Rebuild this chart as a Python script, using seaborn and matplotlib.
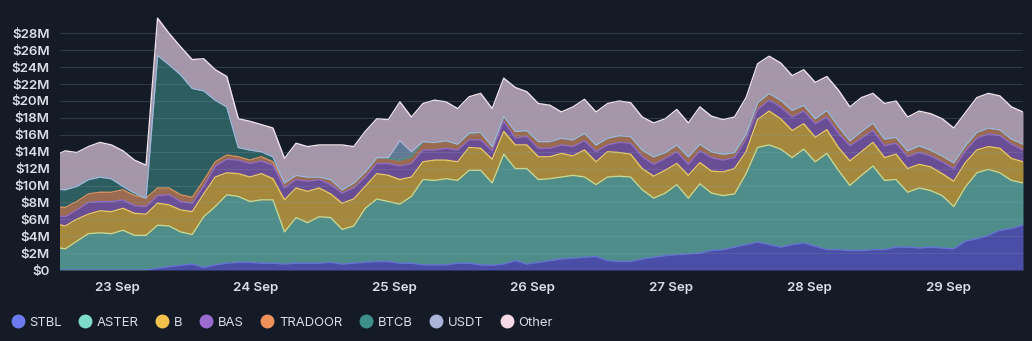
import numpy as np
import pandas as pd
import matplotlib
matplotlib.use("Agg")
import matplotlib.pyplot as plt
import matplotlib.dates as mdates
from matplotlib.lines import Line2D
from matplotlib.ticker import FuncFormatter, FixedLocator
import seaborn as sns

# ---- data (millions of USD, 2-hour steps from 22 Sep 13:00) ----
timestamps = pd.date_range("2025-09-22 13:00", periods=85, freq="2h")

stbl = [0, 0, 0, 0, 0, 0, 0, 0, 0, 0.2, 0.4, 0.55, 0.7, 0.3, 0.6, 0.8, 0.9, 0.9, 0.8, 0.8,
        0.7, 0.8, 0.8, 0.8, 0.9, 0.7, 0.8, 0.9, 1.0, 1.0, 0.8, 0.8, 0.6, 0.6, 0.6, 0.8, 0.8, 0.6, 0.55, 0.7,
        1.1, 0.7, 0.9, 1.1, 1.3, 1.4, 1.5, 1.6, 1.1, 1.0, 1.0, 1.3, 1.5, 1.7, 1.8, 1.9, 2.0, 2.3, 2.4, 2.7,
        3.0, 3.3, 3.0, 2.7, 3.0, 3.2, 2.8, 2.4, 2.4, 2.3, 2.3, 2.4, 2.4, 2.7, 2.7, 2.6, 2.7, 2.6, 2.5, 3.4,
        3.7, 4.1, 4.7, 4.9, 5.3]
aster = [2.7, 2.5, 3.4, 4.3, 4.4, 4.3, 4.7, 4.1, 4.1, 5.1, 4.8, 3.95, 3.5, 6.0, 6.9, 8.1, 7.8, 7.2, 7.5, 7.5,
         3.8, 5.4, 4.8, 5.5, 5.3, 4.1, 4.4, 6.4, 7.4, 7.1, 7.0, 7.9, 10.1, 10.0, 10.2, 9.8, 11.0, 11.2, 9.75, 13.0,
         10.9, 11.3, 9.8, 9.7, 9.7, 9.8, 9.5, 8.5, 9.9, 10.1, 10.0, 8.2, 7.0, 7.4, 8.3, 6.6, 8.2, 6.8, 6.4, 6.3,
         8.4, 11.2, 11.8, 11.6, 10.3, 11.1, 10.0, 11.4, 9.4, 7.7, 8.9, 9.9, 8.2, 8.0, 6.5, 7.1, 6.7, 6.2, 5.0, 6.4,
         7.8, 7.8, 6.8, 5.7, 5.0]
b_tok = [2.8, 2.7, 2.6, 2.3, 2.6, 2.6, 2.6, 2.6, 2.5, 2.6, 2.5, 2.6, 2.7, 2.7, 3.5, 2.6, 2.7, 2.9, 3.1, 2.5,
         3.8, 3.5, 3.7, 3.4, 2.8, 3.1, 3.2, 2.6, 3.0, 3.1, 2.9, 2.3, 2.1, 2.4, 2.2, 2.2, 2.7, 2.6, 2.8, 2.7,
         2.8, 2.8, 2.7, 2.6, 2.8, 2.3, 3.2, 2.7, 3.0, 2.8, 2.7, 2.5, 2.6, 2.7, 2.5, 2.7, 2.5, 2.6, 2.8, 3.0,
         2.6, 3.3, 4.0, 3.6, 3.2, 3.0, 2.9, 2.8, 2.7, 2.9, 2.8, 2.8, 2.7, 3.0, 2.8, 2.8, 2.8, 2.6, 3.0, 2.9,
         2.7, 2.7, 2.9, 2.6, 2.5]
bas = [1.0, 1.1, 1.1, 1.4, 1.1, 1.2, 1.0, 0.9, 0.9, 0.9, 1.2, 1.0, 1.0, 0.9, 1.3, 1.6, 1.6, 1.6, 1.5, 1.6,
       1.4, 1.0, 1.2, 1.0, 1.1, 1.2, 1.3, 1.1, 1.2, 1.4, 1.6, 1.6, 1.4, 1.2, 1.4, 1.4, 0.9, 1.0, 1.0, 1.2,
       0.8, 1.0, 1.0, 1.0, 1.0, 1.1, 1.1, 1.2, 0.8, 1.2, 1.3, 1.4, 1.4, 1.4, 1.4, 1.3, 1.4, 1.6, 1.4, 1.3,
       1.5, 1.2, 1.3, 1.4, 1.6, 1.5, 1.6, 1.5, 1.7, 1.8, 1.6, 1.4, 1.4, 1.3, 1.4, 1.4, 1.3, 1.4, 1.5, 1.4,
       1.4, 1.5, 1.5, 1.7, 1.4]
tradoor = [1.0, 1.1, 1.0, 1.0, 1.1, 1.1, 1.2, 1.2, 1.0, 0.9, 0.8, 0.8, 0.7, 0.7, 0.5, 0.5, 0.4, 0.4, 0.5, 0.4,
           0.6, 0.5, 0.5, 0.3, 0.6, 0.4, 0.6, 0.6, 0.7, 0.6, 0.7, 0.8, 1.0, 0.9, 0.9, 0.7, 0.8, 0.9, 0.5, 0.6,
           0.8, 0.7, 0.8, 0.8, 0.8, 0.8, 0.9, 0.8, 0.8, 0.8, 0.8, 0.8, 0.9, 0.7, 0.8, 0.9, 0.8, 0.7, 0.7, 0.6,
           0.6, 0.8, 0.8, 0.8, 0.8, 0.7, 0.6, 0.8, 0.8, 0.6, 0.8, 0.9, 0.8, 0.7, 0.7, 0.8, 0.7, 0.7, 0.7, 0.6,
           0.7, 0.7, 0.7, 0.6, 0.7]
btcb = [2.1, 2.1, 1.8, 1.7, 1.8, 1.6, 0.4, 0.3, 0, 15.7, 14.6, 14.2, 12.9, 10.6, 7.3, 5.7, 1.1, 1.2, 0.6, 0.6,
        0, 0, 0, 0, 0, 0, 0, 0, 0, 0, 0, 0, 0, 0, 0, 0, 0, 0, 0, 0,
        0, 0, 0, 0, 0, 0, 0, 0, 0, 0, 0, 0, 0, 0, 0, 0, 0, 0, 0, 0,
        0, 0, 0, 0, 0, 0, 0, 0, 0, 0, 0, 0, 0, 0, 0, 0, 0, 0, 0, 0,
        0, 0, 0, 0, 0]
usdt = [0, 0, 0, 0, 0, 0, 0, 0, 0, 0, 0, 0, 0, 0, 0, 0, 0, 0, 0, 0,
        0, 0, 0, 0, 0, 0, 0, 0, 0, 0.1, 2.3, 0.6, 0, 0, 0, 0, 0, 0, 0, 0,
        0, 0, 0, 0, 0, 0, 0, 0, 0, 0, 0, 0, 0, 0, 0, 0, 0, 0, 0, 0,
        0, 0, 0, 0, 0, 0, 0, 0, 0, 0, 0, 0, 0, 0, 0, 0, 0, 0, 0, 0,
        0, 0, 0, 0, 0]
other = [3.9, 4.6, 4.0, 3.9, 4.1, 4.0, 4.2, 3.9, 3.9, 4.4, 3.7, 3.3, 3.4, 3.8, 3.6, 3.6, 3.4, 3.4, 3.2, 3.4,
         2.9, 3.8, 3.6, 3.8, 4.1, 5.3, 4.3, 4.8, 4.6, 4.5, 4.6, 4.1, 4.5, 5.0, 4.6, 4.2, 4.3, 4.6, 4.5, 4.5,
         5.2, 4.6, 4.5, 4.3, 3.1, 3.9, 4.0, 3.9, 4.1, 4.1, 4.0, 3.9, 4.0, 4.0, 4.2, 4.0, 4.4, 4.2, 4.1, 4.2,
         4.3, 4.6, 4.4, 4.4, 4.1, 4.2, 4.3, 4.0, 4.3, 4.0, 4.0, 3.5, 4.2, 4.3, 4.0, 4.1, 4.3, 4.4, 4.1, 3.9,
         4.1, 4.1, 4.0, 3.8, 3.8]

series_names = ["STBL", "ASTER", "B", "BAS", "TRADOOR", "BTCB", "USDT", "Other"]
series_values = [stbl, aster, b_tok, bas, tradoor, btcb, usdt, other]
y_ticks = [0, 2, 4, 6, 8, 10, 12, 14, 16, 18, 20, 22, 24, 26, 28]

legend_colors = ["#6b7bef", "#7fdccb", "#f2c14e", "#9b6bd0", "#f0905a", "#3d8f8c", "#a9b5d9", "#f8d9e6"]
fill_colors = ["#4a4ea6", "#4f8d8b", "#a5883c", "#694e96", "#9a6b50", "#2c5d5f", "#607a95", "#a596a9"]
edge_colors = ["#6670d8", "#c2d894", "#e8c860", "#8f6cc8", "#d8905e", "#3f8d8b", "#a9b5d9", "#eee2ec"]

bg = "#151b26"
text_c = "#d9dde5"

sns.set_theme(style="dark")
plt.rcParams["font.family"] = ["Inter", "DejaVu Sans"]

fig = plt.figure(figsize=(10.32, 3.41), dpi=100, facecolor=bg)
ax = fig.add_axes([59.5 / 1032, 71 / 341, (1023 - 59.5) / 1032, (270 - 16.5) / 341])
ax.set_facecolor(bg)

df = pd.DataFrame({n: v for n, v in zip(series_names, series_values)}, index=timestamps)

ax.stackplot(df.index, [df[n].values for n in series_names], colors=fill_colors,
             linewidth=0, zorder=2)

cum = df.cumsum(axis=1)
for n, ec in zip(series_names, edge_colors):
    sns.lineplot(x=cum.index, y=cum[n].values, ax=ax, color=ec, linewidth=1.0, zorder=3, legend=False)

ax.set_xlim(pd.Timestamp("2025-09-22 14:00"), pd.Timestamp("2025-09-29 13:00"))
ax.set_ylim(0, 30)
ax.yaxis.set_major_locator(FixedLocator(y_ticks))
ax.yaxis.set_major_formatter(FuncFormatter(lambda v, p: "$0" if v == 0 else f"${v:.0f}M"))
ax.xaxis.set_major_locator(mdates.DayLocator())
ax.xaxis.set_major_formatter(mdates.DateFormatter("%d %b"))
ax.set_xlabel("")
ax.set_ylabel("")

ax.grid(False)
for yv in y_ticks[1:]:
    ax.axhline(yv, color="#8aa0b8", alpha=0.22, linewidth=0.8, zorder=4)
for s in ax.spines.values():
    s.set_visible(False)
ax.tick_params(axis="both", length=0, colors=text_c, labelsize=9.6)
ax.tick_params(axis="y", pad=7)
ax.tick_params(axis="x", pad=9)
for lab in ax.get_xticklabels() + ax.get_yticklabels():
    lab.set_fontweight("semibold")
    lab.set_color(text_c)

handles = [Line2D([], [], marker="o", linestyle="", markersize=9, markerfacecolor=c,
                  markeredgecolor=c) for c in legend_colors]
leg = fig.legend(handles, series_names, loc="center left", bbox_to_anchor=(-0.002, 0.053),
                 ncol=8, frameon=False, handletextpad=0.3, columnspacing=1.2,
                 handlelength=1.2, fontsize=9.4)
for t in leg.get_texts():
    t.set_color(text_c)

fig.savefig("out.png", dpi=100, facecolor=bg)
